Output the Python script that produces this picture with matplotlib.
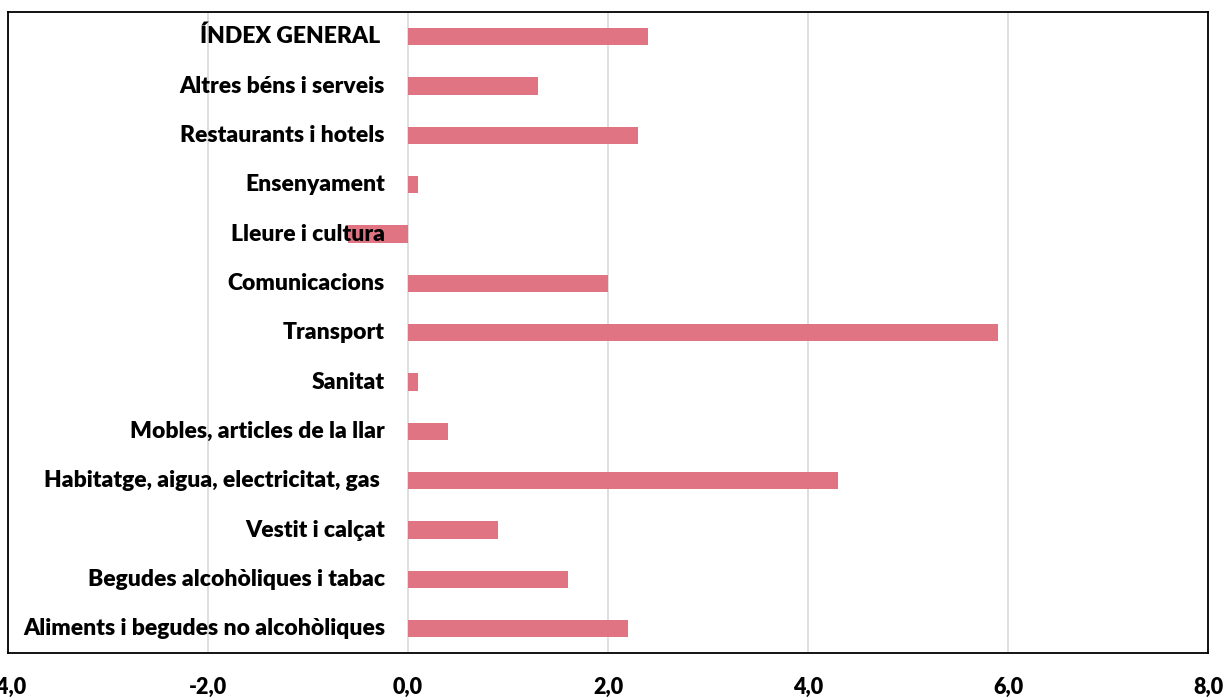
import matplotlib.pyplot as plt

categories = [
    "Aliments i begudes no alcohòliques",
    "Begudes alcohòliques i tabac",
    "Vestit i calçat",
    "Habitatge, aigua, electricitat, gas ",
    "Mobles, articles de la llar",
    "Sanitat",
    "Transport",
    "Comunicacions",
    "Lleure i cultura",
    "Ensenyament",
    "Restaurants i hotels",
    "Altres béns i serveis",
    "ÍNDEX GENERAL ",
]
values = [2.2, 1.6, 0.9, 4.3, 0.4, 0.1, 5.9, 2.0, -0.6, 0.1, 2.3, 1.3, 2.4]
xticks = [-4, -2, 0, 2, 4, 6, 8]

plt.rcParams['font.family'] = ['Lato', 'DejaVu Sans']

fig = plt.figure(figsize=(12.27, 7.0), dpi=100)
ax = fig.add_axes([8 / 1227, 1 - 653 / 700, 1200 / 1227, 641 / 700])

ypos = list(range(len(categories)))
ax.barh(ypos, values, height=0.35, color='#e06d7c', alpha=0.95, zorder=2)

for y, name in zip(ypos, categories):
    ax.text(-0.23, y, name, ha='right', va='center', fontsize=16.5,
            fontweight='heavy', color='black', zorder=3)

ax.set_xlim(-4, 8)
ax.set_ylim(-0.49, len(categories) - 0.5)
ax.set_xticks(xticks)
ax.set_xticklabels([f"{t:.1f}".replace('.', ',') for t in xticks],
                   fontsize=15.5, fontweight='heavy')
ax.tick_params(axis='x', length=0, pad=17)
ax.set_yticks([])
ax.grid(axis='x', color='#d9d9d9', linewidth=1.2, zorder=0)
for s in ax.spines.values():
    s.set_color('black')
    s.set_linewidth(1.3)

fig.savefig('out.png', dpi=100)
